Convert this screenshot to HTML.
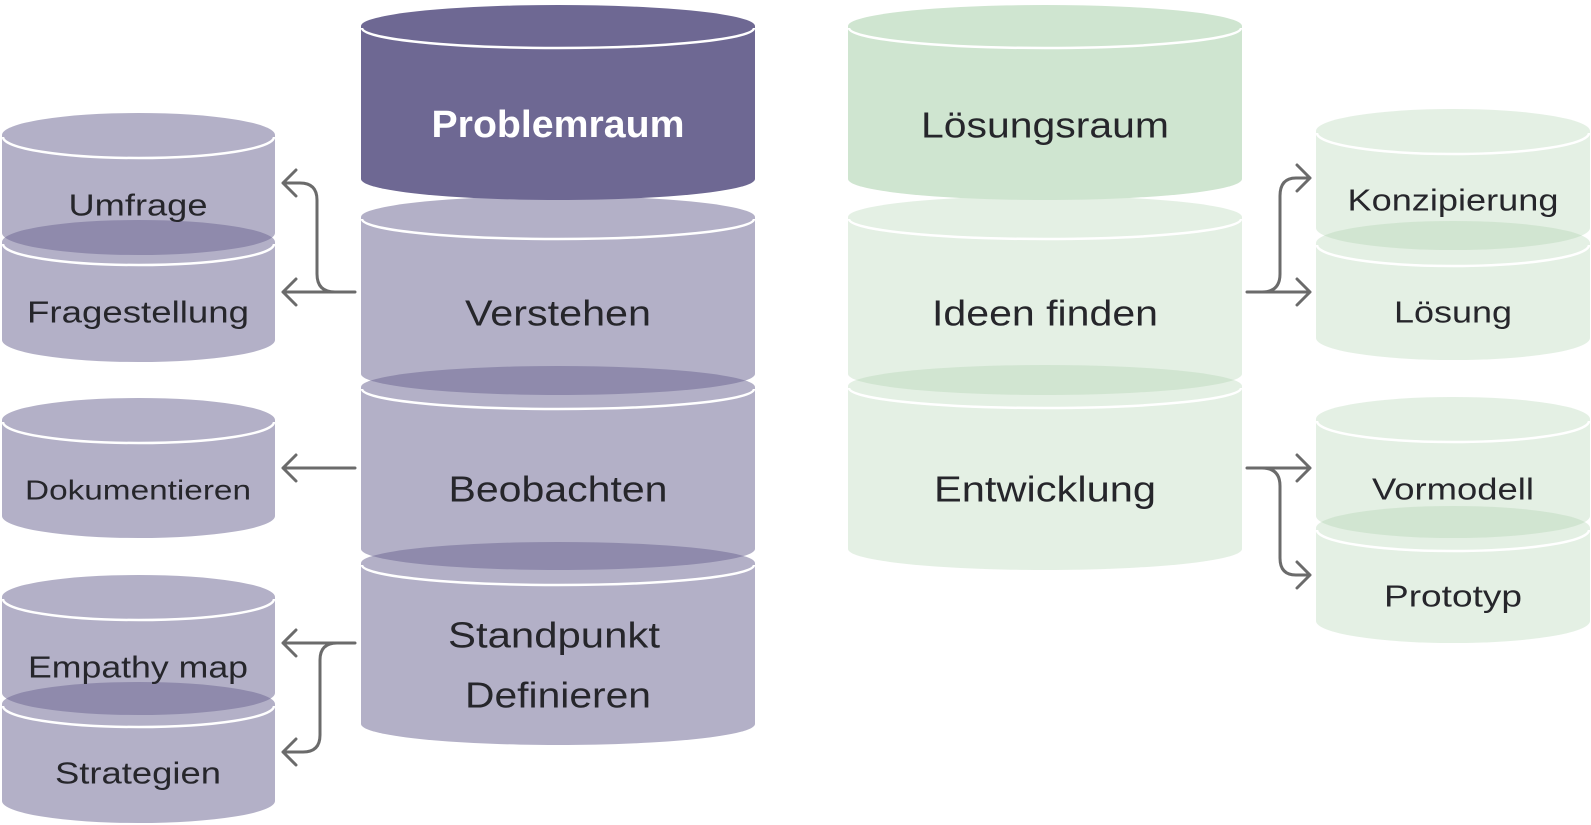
<!DOCTYPE html>
<html><head><meta charset="utf-8"><style>
html,body{margin:0;padding:0;background:#fff;}
svg{display:block;}
text{font-family:"Liberation Sans",sans-serif;text-anchor:middle;dominant-baseline:central;fill:#26262b;}
</style></head><body>
<svg width="1591" height="825" viewBox="0 0 1591 825" xmlns="http://www.w3.org/2000/svg">
<defs></defs>
<g id="c">
</g>
<!-- helper: cylinder path M x1,ct A rx ry 0 0 1 x2,ct L x2,cb A rx ry 0 0 1 x1,cb Z -->
<g fill="#6e6893" fill-opacity="0.52">
 <!-- left subs -->
 <path d="M2,135 A136.5,22 0 0 1 275,135 L275,233 A136.5,22 0 0 1 2,233 Z"/>
 <path d="M2,242 A136.5,22 0 0 1 275,242 L275,340 A136.5,22 0 0 1 2,340 Z"/>
 <path d="M2,420 A136.5,22 0 0 1 275,420 L275,516 A136.5,22 0 0 1 2,516 Z"/>
 <path d="M2,597 A136.5,22 0 0 1 275,597 L275,693 A136.5,22 0 0 1 2,693 Z"/>
 <path d="M2,704 A136.5,22 0 0 1 275,704 L275,801 A136.5,22 0 0 1 2,801 Z"/>
 <!-- main -->
 <path d="M361,217 A197,21 0 0 1 755,217 L755,374 A197,21 0 0 1 361,374 Z"/>
 <path d="M361,387 A197,21 0 0 1 755,387 L755,549 A197,21 0 0 1 361,549 Z"/>
 <path d="M361,563 A197,21 0 0 1 755,563 L755,724 A197,21 0 0 1 361,724 Z"/>
</g>
<path d="M361,26 A197,21 0 0 1 755,26 L755,179 A197,21 0 0 1 361,179 Z" fill="#6e6893"/>
<g fill="#a5cda5" fill-opacity="0.3">
 <path d="M848,217 A197,21 0 0 1 1242,217 L1242,374 A197,21 0 0 1 848,374 Z"/>
 <path d="M848,386 A197,21 0 0 1 1242,386 L1242,549 A197,21 0 0 1 848,549 Z"/>
 <path d="M1316,131 A137,22 0 0 1 1590,131 L1590,228 A137,22 0 0 1 1316,228 Z"/>
 <path d="M1316,243 A137,22 0 0 1 1590,243 L1590,338 A137,22 0 0 1 1316,338 Z"/>
 <path d="M1316,419 A137,22 0 0 1 1590,419 L1590,516 A137,22 0 0 1 1316,516 Z"/>
 <path d="M1316,528 A137,22 0 0 1 1590,528 L1590,621 A137,22 0 0 1 1316,621 Z"/>
</g>
<path d="M848,26 A197,21 0 0 1 1242,26 L1242,179 A197,21 0 0 1 848,179 Z" fill="#cfe5d0"/>
<!-- white front lines -->
<g fill="none" stroke="#fff" stroke-width="2.5">
 <path d="M3,137 A135.5,21 0 0 0 274,137"/>
 <path d="M3,244 A135.5,21 0 0 0 274,244"/>
 <path d="M3,422 A135.5,21 0 0 0 274,422"/>
 <path d="M3,599 A135.5,21 0 0 0 274,599"/>
 <path d="M3,706 A135.5,21 0 0 0 274,706"/>
 <path d="M362,28 A196,20 0 0 0 754,28"/>
 <path d="M362,219 A196,20 0 0 0 754,219"/>
 <path d="M362,389 A196,20 0 0 0 754,389"/>
 <path d="M362,565 A196,20 0 0 0 754,565"/>
 <path d="M849,28 A196,20 0 0 0 1241,28"/>
 <path d="M849,219 A196,20 0 0 0 1241,219"/>
 <path d="M849,388 A196,20 0 0 0 1241,388"/>
 <path d="M1317,133 A136,21 0 0 0 1589,133"/>
 <path d="M1317,245 A136,21 0 0 0 1589,245"/>
 <path d="M1317,421 A136,21 0 0 0 1589,421"/>
 <path d="M1317,530 A136,21 0 0 0 1589,530"/>
</g>
<!-- arrows -->
<g fill="none" stroke="#6b6b6b" stroke-width="3" stroke-linecap="round" stroke-linejoin="round">
 <path d="M355,292 L283,292 M296,279 L283,292 L296,305"/>
 <path d="M335,292 Q317,292 317,274 L317,200 Q317,183 300,183 L283,183 M296,170 L283,183 L296,196"/>
 <path d="M355,468 L283,468 M296,455 L283,468 L296,481"/>
 <path d="M355,643 L283,643 M296,630 L283,643 L296,656"/>
 <path d="M337,643 Q320,643 320,660 L320,735 Q320,752 303,752 L283,752 M296,739 L283,752 L296,765"/>
 <path d="M1247,292 L1310,292 M1297,279 L1310,292 L1297,305"/>
 <path d="M1262,292 Q1280,292 1280,274 L1280,196 Q1280,178 1296,178 L1310,178 M1297,165 L1310,178 L1297,191"/>
 <path d="M1247,468 L1310,468 M1297,455 L1310,468 L1297,481"/>
 <path d="M1262,468 Q1280,468 1280,486 L1280,558 Q1280,575 1296,575 L1310,575 M1297,562 L1310,575 L1297,588"/>
</g>
<!-- labels -->
<text x="558" y="125" font-size="38" font-weight="bold" style="fill:#fff" textLength="253" lengthAdjust="spacingAndGlyphs">Problemraum</text>
<text x="558" y="313" font-size="36" textLength="186" lengthAdjust="spacingAndGlyphs">Verstehen</text>
<text x="558" y="489" font-size="36" textLength="219" lengthAdjust="spacingAndGlyphs">Beobachten</text>
<text x="554" y="635" font-size="36" textLength="212" lengthAdjust="spacingAndGlyphs">Standpunkt</text>
<text x="558" y="695" font-size="36" textLength="186" lengthAdjust="spacingAndGlyphs">Definieren</text>
<text x="1045" y="125" font-size="36" textLength="248" lengthAdjust="spacingAndGlyphs">Lösungsraum</text>
<text x="1045" y="313" font-size="36" textLength="226" lengthAdjust="spacingAndGlyphs">Ideen finden</text>
<text x="1045" y="489" font-size="36" textLength="222" lengthAdjust="spacingAndGlyphs">Entwicklung</text>
<text x="138" y="205" font-size="31" textLength="139" lengthAdjust="spacingAndGlyphs">Umfrage</text>
<text x="138" y="312" font-size="31" textLength="222" lengthAdjust="spacingAndGlyphs">Fragestellung</text>
<text x="138" y="490" font-size="28" textLength="226" lengthAdjust="spacingAndGlyphs">Dokumentieren</text>
<text x="138" y="667" font-size="31" textLength="220" lengthAdjust="spacingAndGlyphs">Empathy map</text>
<text x="138" y="773" font-size="31" textLength="166" lengthAdjust="spacingAndGlyphs">Strategien</text>
<text x="1453" y="200" font-size="31" textLength="211" lengthAdjust="spacingAndGlyphs">Konzipierung</text>
<text x="1453" y="312" font-size="31" textLength="118" lengthAdjust="spacingAndGlyphs">Lösung</text>
<text x="1453" y="489" font-size="31" textLength="162" lengthAdjust="spacingAndGlyphs">Vormodell</text>
<text x="1453" y="596" font-size="31" textLength="138" lengthAdjust="spacingAndGlyphs">Prototyp</text>
</svg>
</body></html>
